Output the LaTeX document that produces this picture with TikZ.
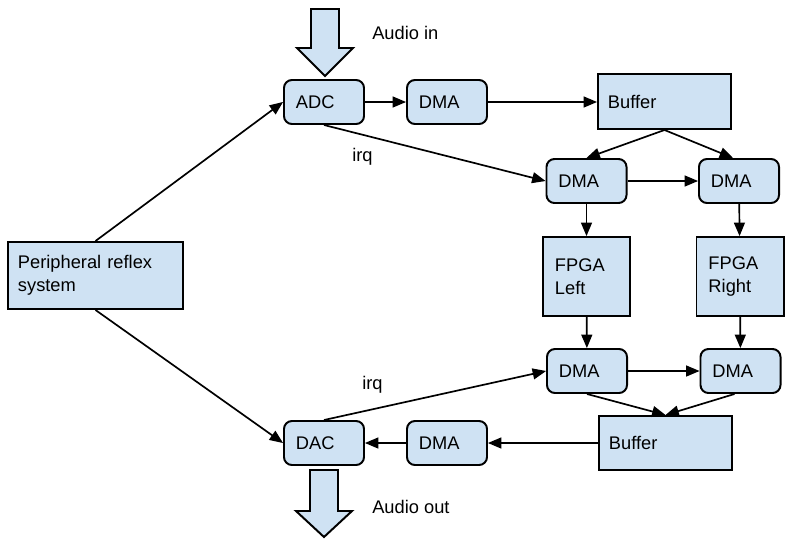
\documentclass[tikz,border=0pt]{standalone}
\usepackage{fontspec}
\setmainfont{Liberation Sans}
\usetikzlibrary{arrows}
\definecolor{L}{RGB}{207, 226, 243}

\begin{document}
\begin{tikzpicture}[x=0.025cm, y=-0.025cm,
  every node/.style={font=\fontsize{13}{16.5}\selectfont},
  rbox/.style={draw=black, fill=L, line width=1.4pt, rounded corners=0.2cm,
    minimum height=1.1cm, text width=1.4cm, inner xsep=0.3cm, align=left},
  sbox/.style={draw=black, fill=L, line width=1.4pt, inner xsep=0.25cm, align=left},
  lbl/.style={inner sep=0pt, anchor=west},
  link/.style={-triangle 45, line width=1.2pt},
  fat/.style={draw=black, fill=L, line width=1.4pt}]
  \useasboundingbox (0,0) rectangle (797,548);

  %# AUDIO IN / OUT
  \filldraw[fat] (311,9) -- (339,9) -- (339,48) -- (353,48) -- (325,76) -- (297,48) -- (311,48) -- cycle;
  \node[lbl] (ain) at (372,33) {Audio in};
  \filldraw[fat] (310,470) -- (338,470) -- (338,511) -- (352,511) -- (324,537) -- (296,511) -- (310,511) -- cycle;
  \node[lbl] (aout) at (372,507) {Audio out};

  %# BLOQUES
  \node[sbox, text width=3.875cm, minimum height=1.675cm] (prs) at (95.5,275.5) {Peripheral reflex\\system};
  \node[rbox] (adc) at (324,102) {ADC};
  \node[rbox] (dmaa) at (447,102) {DMA};
  \node[sbox, text width=2.825cm, minimum height=1.375cm] (bufa) at (664.5,101.5) {Buffer};
  \node[rbox] (dmab) at (586.5,181) {DMA};
  \node[rbox] (dmac) at (739,181) {DMA};
  \node[sbox, text width=1.575cm, minimum height=1.975cm, inner xsep=0.3cm] (fpl) at (586.5,276.5) {FPGA\\Left};
  \node[sbox, text width=1.575cm, minimum height=1.975cm, inner xsep=0.3cm] (fpr) at (740,276.5) {FPGA\\Right};
  \node[rbox] (dmad) at (587,371) {DMA};
  \node[rbox] (dmae) at (740.5,371) {DMA};
  \node[sbox, text width=2.825cm, minimum height=1.35cm] (bufb) at (665.5,443) {Buffer};
  \node[rbox] (dmaf) at (447,443) {DMA};
  \node[rbox] (dac) at (324,443) {DAC};

  %# CONEXIONES
  \draw[link] (prs.north) -- (adc.west);
  \draw[link] (prs.south) -- (dac.west);
  \draw[link] (adc) -- (dmaa);
  \draw[link] (dmaa.east) -- (dmaa.east -| bufa.west);
  \draw[link] (bufa.south) -- (dmab.north);
  \draw[link] (bufa.south) -- ([xshift=-0.15cm]dmac.north);
  \draw[link] (adc.south) -- (dmab.west);
  \node[lbl] (irqa) at (352,157) {irq};
  \draw[link] (dmab) -- (dmac);
  \draw[link] (dmab) -- (fpl);
  \draw[link] (dmac) -- (fpr);
  \draw[link] (fpl) -- (dmad);
  \draw[link] (fpr) -- (dmae);
  \draw[link] (dmad) -- (dmae);
  \draw[link] (dmad.south) -- (bufb.north);
  \draw[link] ([xshift=-0.15cm]dmae.south) -- (bufb.north);
  \draw[link] (dac.north) -- (dmad.west);
  \node[lbl] (irqb) at (362,385) {irq};
  \draw[link] (bufb.west) -- (bufb.west -| dmaf.east);
  \draw[link] (dmaf) -- (dac);
\end{tikzpicture}
\end{document}
